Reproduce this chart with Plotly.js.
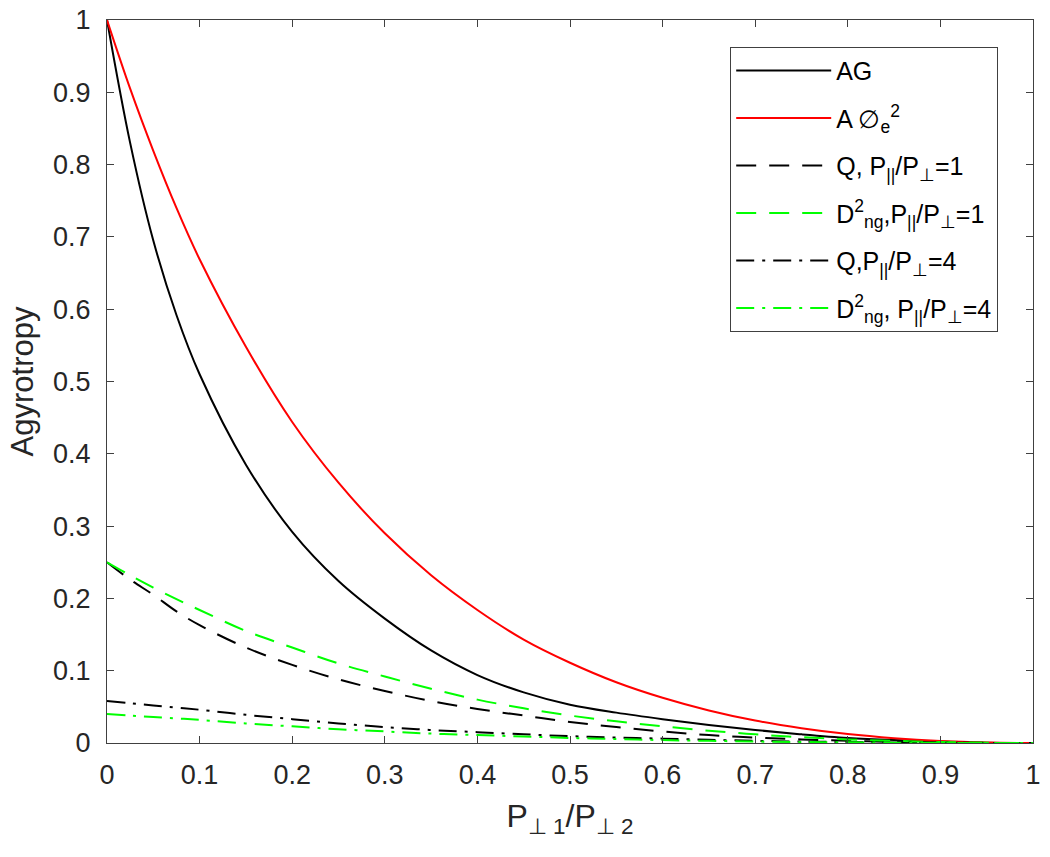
<!DOCTYPE html>
<html>
<head>
<meta charset="utf-8">
<script src="https://cdn.plot.ly/plotly-3.0.1.min.js"></script>
<style>html,body{margin:0;padding:0;background:#fff;}#chart{width:1050px;height:857px;}</style>
</head>
<body>
<div id="chart"></div>
<script>
// P_perp1 / P_perp2 ratio
const ratio = [0, 0.025, 0.05, 0.075, 0.1, 0.15, 0.2, 0.25, 0.3, 0.35, 0.4, 0.45, 0.5, 0.55, 0.6, 0.65, 0.7, 0.75, 0.8, 0.85, 0.9, 0.95, 1];
const agValues   = [1, 0.83, 0.695, 0.592, 0.51, 0.385, 0.292, 0.224, 0.172, 0.128, 0.094, 0.07, 0.053, 0.042, 0.033, 0.025, 0.018, 0.012, 0.007, 0.004, 0.002, 0.0005, 0];
const aphiValues = [1, 0.905, 0.819, 0.74, 0.669, 0.548, 0.444, 0.36, 0.29, 0.232, 0.184, 0.143, 0.111, 0.084, 0.0625, 0.045, 0.031, 0.0204, 0.0123, 0.0066, 0.0028, 0.0007, 0];
const q1Values   = [0.25, 0.226, 0.205, 0.182, 0.163, 0.132, 0.108, 0.088, 0.072, 0.058, 0.047, 0.038, 0.029, 0.022, 0.016, 0.011, 0.0075, 0.005, 0.003, 0.0015, 0.0007, 0.0002, 0];
const d1Values   = [0.25, 0.232, 0.215, 0.199, 0.184, 0.155, 0.132, 0.11, 0.092, 0.075, 0.06, 0.048, 0.038, 0.03, 0.023, 0.017, 0.012, 0.008, 0.005, 0.003, 0.0013, 0.0003, 0];
const q4Values   = [0.058, 0.055, 0.052, 0.049, 0.046, 0.039, 0.033, 0.027, 0.022, 0.018, 0.015, 0.012, 0.0095, 0.0075, 0.006, 0.0045, 0.003, 0.002, 0.0013, 0.0007, 0.0003, 0.0001, 0];
const d4Values   = [0.04, 0.038, 0.036, 0.034, 0.032, 0.027, 0.023, 0.019, 0.016, 0.013, 0.011, 0.009, 0.007, 0.0055, 0.004, 0.003, 0.002, 0.0014, 0.0009, 0.0005, 0.0002, 0.0001, 0];

const seriesNames = [
  'AG',
  'A ∅<sub>e</sub><sup>2</sup>',
  'Q, P<sub>||</sub>/P<sub>⊥</sub>=1',
  'D<sup>2</sup><sub>ng</sub>,P<sub>||</sub>/P<sub>⊥</sub>=1',
  'Q,P<sub>||</sub>/P<sub>⊥</sub>=4',
  'D<sup>2</sup><sub>ng</sub>, P<sub>||</sub>/P<sub>⊥</sub>=4'
];
const tickVals = [0, 0.1, 0.2, 0.3, 0.4, 0.5, 0.6, 0.7, 0.8, 0.9, 1];
const tickText = ['0', '0.1', '0.2', '0.3', '0.4', '0.5', '0.6', '0.7', '0.8', '0.9', '1'];

const dashLine = '20px,13px';
const dashDot = '18px,8px,3px,8px';
const mk = (y, name, color, dash, g) => ({
  x: ratio, y: y, name: name, type: 'scatter', mode: 'lines', legendgroup: g,
  line: {color: color, width: 2, dash: dash, shape: 'spline', smoothing: 1}
});
const data = [
  mk(agValues, seriesNames[0], '#000000', 'solid', 'g1'),
  mk(aphiValues, seriesNames[1], '#ff0000', 'solid', 'g2'),
  mk(q1Values, seriesNames[2], '#000000', dashLine, 'g3'),
  mk(d1Values, seriesNames[3], '#00ff00', dashLine, 'g4'),
  mk(q4Values, seriesNames[4], '#000000', dashDot, 'g5'),
  mk(d4Values, seriesNames[5], '#00ff00', dashDot, 'g6')
];

const font = 'Liberation Sans, Arial, Helvetica, sans-serif';
const axisCommon = {
  range: [0, 1], showgrid: false, zeroline: false,
  showline: true, linecolor: '#404040', linewidth: 1, mirror: 'ticks',
  ticks: 'inside', ticklen: 7, tickwidth: 1, tickcolor: '#404040',
  tickvals: tickVals, ticktext: tickText,
  tickfont: {family: font, size: 27, color: '#262626'}
};
const layout = {
  width: 1050, height: 857,
  margin: {l: 107, r: 17, t: 20, b: 114},
  paper_bgcolor: '#ffffff', plot_bgcolor: '#ffffff',
  font: {family: font, color: '#262626'},
  showlegend: true,
  legend: {
    x: 0.673, y: 0.963, xanchor: 'left', yanchor: 'top',
    bgcolor: '#ffffff', bordercolor: '#404040', borderwidth: 1,
    font: {family: font, size: 25, color: '#000000'},
    itemwidth: 95, traceorder: 'grouped', tracegroupgap: 12
  },
  xaxis: Object.assign({}, axisCommon, {
    ticklabelstandoff: 8,
    title: {text: 'P<sub>⊥ 1</sub>/P<sub>⊥ 2</sub>', font: {family: font, size: 32, color: '#262626'}, standoff: 15}
  }),
  yaxis: Object.assign({}, axisCommon, {
    ticklabelstandoff: 10,
    title: {text: 'Agyrotropy', font: {family: font, size: 31, color: '#262626'}, standoff: 10}
  })
};
Plotly.newPlot('chart', data, layout, {displayModeBar: false, staticPlot: true});
</script>
</body>
</html>
